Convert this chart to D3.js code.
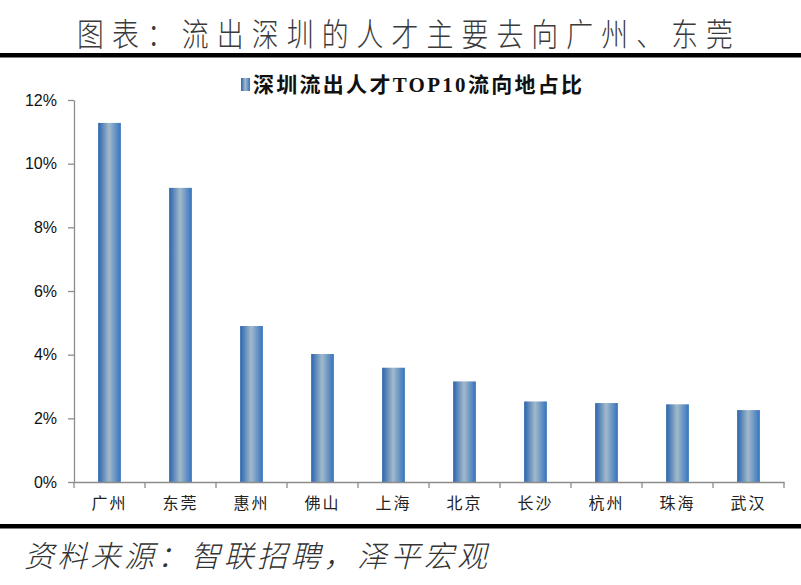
<!DOCTYPE html>
<html>
<head>
<meta charset="utf-8">
<script src="https://cdn.jsdelivr.net/npm/d3@7"></script>
<style>
  body { margin: 0; background: #fff; }
  svg { display: block; }
</style>
</head>
<body>
<script>
let width = 801
let height = 585

let cities = ["广州", "东莞", "惠州", "佛山", "上海", "北京", "长沙", "杭州", "珠海", "武汉"]
let shares = [0.1128, 0.0924, 0.0490, 0.0402, 0.0359, 0.0316, 0.0253, 0.0248, 0.0244, 0.0226]
let yTicks = [0, 0.02, 0.04, 0.06, 0.08, 0.10, 0.12]

let titleText = "图表：流出深圳的人才主要去向广州、东莞"
let legendText = "深圳流出人才TOP10流向地占比"
let sourceText = "资料来源：智联招聘，泽平宏观"

let svg = d3.select("body")
    .append("svg")
    .attr("width", width)
    .attr("height", height)

// bar gradient, dark blue edges with a pale middle
let grad = svg.append("defs").append("linearGradient")
    .attr("id", "barGrad")
    .attr("x1", "0%").attr("x2", "100%")
    .attr("y1", "0%").attr("y2", "0%")
grad.append("stop").attr("offset", "0%").attr("stop-color", "#2a64ae")
grad.append("stop").attr("offset", "48%").attr("stop-color", "#a2bacb")
grad.append("stop").attr("offset", "100%").attr("stop-color", "#3473bd")

// title and rules
let titleScale = 0.84
svg.append("text")
    .attr("transform", `translate(77,46) scale(${titleScale},1)`)
    .attr("textLength", 656 / titleScale)
    .attr("lengthAdjust", "spacing")
    .style("font-family", "'Noto Sans CJK SC', sans-serif")
    .style("font-weight", 300)
    .style("font-size", "32px")
    .style("fill", "#3a3a3a")
    .text(titleText)

svg.append("rect").attr("x", 0).attr("y", 53).attr("width", width).attr("height", 4.5).attr("fill", "#000")
svg.append("rect").attr("x", 0).attr("y", 524).attr("width", width).attr("height", 4.5).attr("fill", "#000")

svg.append("text")
    .attr("x", 24)
    .attr("y", 567)
    .attr("textLength", 463)
    .attr("lengthAdjust", "spacing")
    .style("font-family", "'Noto Sans CJK SC', sans-serif")
    .style("font-weight", 300)
    .style("font-style", "italic")
    .style("font-size", "30px")
    .style("fill", "#333")
    .text(sourceText)

// legend
svg.append("rect")
    .attr("x", 241).attr("y", 78)
    .attr("width", 9).attr("height", 13)
    .attr("fill", "url(#barGrad)")

svg.append("text")
    .attr("x", 253)
    .attr("y", 92)
    .attr("textLength", 329)
    .attr("lengthAdjust", "spacing")
    .style("font-family", "'Liberation Serif', 'Noto Sans CJK SC', serif")
    .style("font-weight", "bold")
    .style("font-size", "21px")
    .style("fill", "#111")
    .text(legendText)

// scales
let x = d3.scaleBand()
    .domain(cities)
    .range([74, 784])
    .paddingInner(0.68)
    .paddingOuter(0.34)

let y = d3.scaleLinear()
    .domain([0, 0.12])
    .range([482, 100])

// bars
svg.selectAll(".bar")
    .data(cities)
    .enter()
    .append("rect")
    .attr("class", "bar")
    .attr("x", d => x(d))
    .attr("width", x.bandwidth())
    .attr("y", (d, i) => y(shares[i]))
    .attr("height", (d, i) => y(0) - y(shares[i]))
    .attr("fill", "url(#barGrad)")

// y axis
let yAxis = svg.append("g")
    .attr("transform", "translate(74,0)")
    .call(d3.axisLeft(y).tickValues(yTicks).tickFormat(d3.format(".0%")).tickSize(6).tickPadding(11).tickSizeOuter(0))
yAxis.selectAll("path, line").attr("stroke", "#8c8c8c").attr("stroke-width", 1.3)
yAxis.selectAll("text")
    .style("font-family", "'Liberation Sans', sans-serif")
    .style("font-size", "16px")
    .style("fill", "#111")

// x axis: labels at centres, ticks at band edges
let xAxis = svg.append("g")
    .attr("transform", "translate(0,482)")
    .call(d3.axisBottom(x).tickSize(0).tickPadding(16))
xAxis.select(".domain").attr("stroke", "#8c8c8c").attr("stroke-width", 1.3)
xAxis.selectAll("text")
    .style("font-family", "'Noto Sans CJK SC', sans-serif")
    .style("font-size", "16px")
    .style("letter-spacing", "2px")
    .style("fill", "#222")

let edges = d3.range(cities.length + 1).map(i => x.range()[0] + i * x.step())
xAxis.selectAll(".edge")
    .data(edges)
    .enter()
    .append("line")
    .attr("class", "edge")
    .attr("x1", d => d).attr("x2", d => d)
    .attr("y1", 0).attr("y2", 6)
    .attr("stroke", "#8c8c8c")
    .attr("stroke-width", 1.3)
</script>
</body>
</html>
